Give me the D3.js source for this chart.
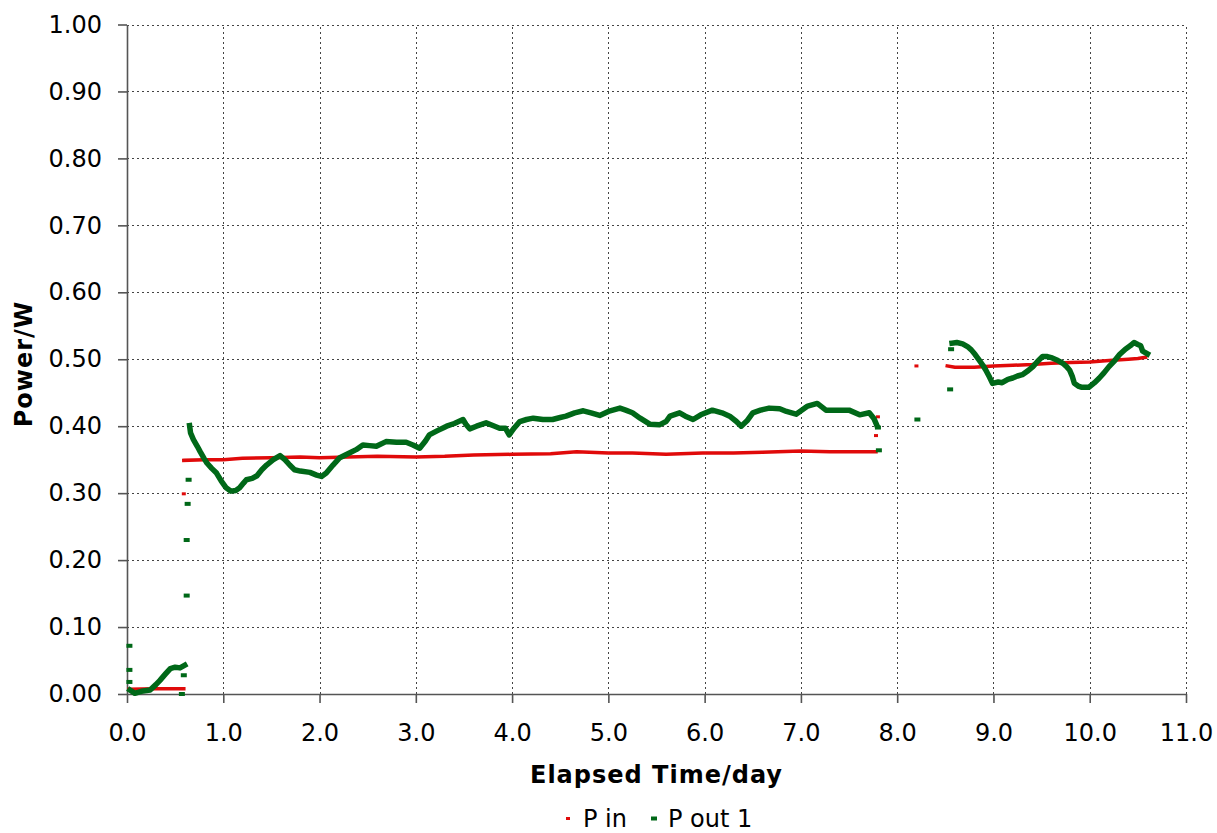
<!DOCTYPE html>
<html>
<head>
<meta charset="utf-8">
<script src="https://cdn.jsdelivr.net/npm/d3@7"></script>
<style>
  html, body { margin: 0; padding: 0; background: #fff; }
  svg { display: block; }
  text { font-family: "DejaVu Sans", Verdana, sans-serif; fill: #000; }
</style>
</head>
<body>
<svg id="chart" width="1217" height="833"></svg>
<script>
// ---------- DATA (days, watts) ----------
const xTicks = [0,1,2,3,4,5,6,7,8,9,10,11];
const yTicks = [0,0.1,0.2,0.3,0.4,0.5,0.6,0.7,0.8,0.9,1.0];
const seriesNames = ["P in", "P out 1"];

// P in
const pInSeg1 = [[0.02,0.007],[0.30,0.008],[0.59,0.008]];
const pInSeg2 = [[0.59,0.349],[0.80,0.350],[1.00,0.350],[1.20,0.352],[1.50,0.353],[1.80,0.354],[2.00,0.353],
  [2.30,0.354],[2.60,0.355],[3.00,0.354],[3.30,0.355],[3.60,0.357],[4.00,0.358],[4.40,0.359],[4.67,0.362],
  [5.00,0.360],[5.25,0.360],[5.60,0.358],[5.98,0.360],[6.30,0.360],[6.60,0.361],[7.00,0.363],[7.30,0.362],
  [7.60,0.362],[7.78,0.362]];
const pInSeg3 = [[8.52,0.490],[8.60,0.488],[8.80,0.488],[9.00,0.490],[9.20,0.491],[9.40,0.492],[9.60,0.494],
  [9.80,0.495],[10.00,0.496],[10.20,0.498],[10.40,0.500],[10.50,0.501],[10.58,0.503]];
const pInPoints = [[0.59,0.299],[7.78,0.386],[7.80,0.414],[8.20,0.490]];

// P out 1
const pOutSeg1 = [[0.03,0.006],[0.08,0.001],[0.15,0.004],[0.24,0.006],[0.30,0.014],[0.34,0.020],[0.40,0.030],
  [0.45,0.038],[0.50,0.040],[0.55,0.039],[0.60,0.043]];
const pOutSeg2 = [[0.65,0.401],[0.66,0.390],[0.69,0.380],[0.73,0.370],[0.76,0.362],[0.80,0.352],[0.83,0.345],
  [0.88,0.337],[0.93,0.330],[0.98,0.318],[1.03,0.308],[1.08,0.303],[1.13,0.304],[1.17,0.308],[1.21,0.315],
  [1.24,0.320],[1.30,0.322],[1.35,0.326],[1.40,0.335],[1.45,0.342],[1.52,0.350],[1.59,0.356],[1.64,0.350],
  [1.69,0.342],[1.74,0.335],[1.80,0.333],[1.90,0.331],[1.97,0.327],[2.02,0.325],[2.07,0.330],[2.14,0.342],
  [2.21,0.353],[2.31,0.360],[2.38,0.365],[2.45,0.372],[2.52,0.371],[2.59,0.370],[2.69,0.377],[2.80,0.376],
  [2.90,0.376],[2.97,0.372],[3.04,0.367],[3.10,0.378],[3.14,0.387],[3.22,0.393],[3.32,0.400],[3.40,0.404],
  [3.49,0.410],[3.52,0.403],[3.56,0.396],[3.63,0.400],[3.73,0.405],[3.80,0.401],[3.87,0.397],[3.93,0.397],
  [3.97,0.387],[4.02,0.397],[4.08,0.407],[4.15,0.410],[4.22,0.412],[4.32,0.410],[4.42,0.410],[4.50,0.413],
  [4.56,0.415],[4.65,0.420],[4.74,0.423],[4.82,0.420],[4.91,0.416],[5.00,0.422],[5.12,0.427],[5.18,0.424],
  [5.25,0.420],[5.33,0.412],[5.43,0.403],[5.53,0.402],[5.60,0.407],[5.64,0.415],[5.74,0.420],[5.80,0.415],
  [5.88,0.410],[5.96,0.417],[6.08,0.424],[6.18,0.420],[6.26,0.415],[6.33,0.407],[6.38,0.400],[6.44,0.408],
  [6.50,0.420],[6.58,0.424],[6.67,0.427],[6.78,0.426],[6.85,0.422],[6.95,0.418],[7.07,0.430],[7.17,0.434],
  [7.26,0.424],[7.36,0.424],[7.50,0.424],[7.61,0.417],[7.71,0.420],[7.76,0.411],[7.79,0.401]];
const pOutSeg3 = [[8.57,0.524],[8.62,0.525],[8.68,0.523],[8.73,0.519],[8.77,0.514],[8.81,0.507],[8.85,0.499],
  [8.89,0.491],[8.92,0.484],[8.96,0.473],[8.99,0.464],[9.05,0.466],[9.09,0.465],[9.15,0.470],[9.20,0.472],
  [9.25,0.475],[9.30,0.477],[9.36,0.483],[9.41,0.489],[9.46,0.497],[9.51,0.504],[9.56,0.504],[9.61,0.502],
  [9.67,0.498],[9.72,0.494],[9.76,0.489],[9.79,0.484],[9.82,0.474],[9.84,0.464],[9.88,0.460],[9.92,0.458],
  [9.99,0.458],[10.05,0.465],[10.10,0.472],[10.15,0.480],[10.20,0.489],[10.26,0.498],[10.31,0.507],
  [10.37,0.515],[10.42,0.520],[10.46,0.525],[10.50,0.522],[10.53,0.520],[10.55,0.512],[10.60,0.508]];
const pOutPoints = [[0.025,0.072],[0.025,0.036],[0.025,0.018],[0.57,0.000],[0.59,0.028],[0.62,0.147],
  [0.62,0.230],[0.63,0.284],[0.64,0.320],[7.80,0.398],[7.81,0.364],[8.21,0.410],[8.55,0.455],[8.56,0.515]];

const colors = { pin: "#e00a0a", pout: "#006818" };

// ---------- LAYOUT ----------
const svg = d3.select("#chart");
const x = d3.scaleLinear().domain([0, 11]).range([127, 1186]);
const y = d3.scaleLinear().domain([0, 1]).range([694, 24.5]);

// Grid
const grid = svg.append("g").attr("stroke", "#444").attr("stroke-width", 1)
  .attr("stroke-dasharray", "2,3").attr("shape-rendering", "crispEdges");
grid.selectAll("line.h").data(yTicks.filter(d => d > 0)).join("line")
  .attr("x1", x(0)).attr("x2", x(11)).attr("y1", d => Math.round(y(d)) + 0.5).attr("y2", d => Math.round(y(d)) + 0.5);
grid.selectAll("line.v").data(xTicks.filter(d => d > 0)).join("line")
  .attr("y1", y(0)).attr("y2", y(1)).attr("x1", d => Math.round(x(d)) + 0.5).attr("x2", d => Math.round(x(d)) + 0.5);

// Axes
const yAxis = svg.append("g").attr("transform", `translate(${x(0)},0)`)
  .call(d3.axisLeft(y).tickValues(yTicks).tickFormat(d3.format(".2f")).tickSize(9).tickPadding(16).tickSizeOuter(0));
const xAxis = svg.append("g").attr("transform", `translate(0,${y(0)})`)
  .call(d3.axisBottom(x).tickValues(xTicks).tickFormat(d3.format(".1f")).tickSize(9).tickSizeOuter(0));
[yAxis, xAxis].forEach(a => {
  a.select(".domain").attr("stroke", "#555").attr("stroke-width", 1.6);
  a.selectAll(".tick line").attr("stroke", "#555").attr("stroke-width", 1.6);
  a.selectAll(".tick text").attr("fill", "#000").style("font-size", "24px")
    .style("font-family", '"DejaVu Sans", Verdana, sans-serif');
});
xAxis.selectAll(".tick text").attr("y", 47).attr("dy", null);

// Series
const line = d3.line().x(d => x(d[0])).y(d => y(d[1]));
const plot = svg.append("g");
function drawSeries(segs, pts, color, lw, mw, mh) {
  const g = plot.append("g");
  g.selectAll("path").data(segs).join("path")
    .attr("d", line).attr("fill", "none").attr("stroke", color)
    .attr("stroke-width", lw).attr("stroke-linejoin", "round").attr("stroke-linecap", "square");
  g.selectAll("rect").data(pts).join("rect")
    .attr("x", d => x(d[0]) - mw / 2).attr("y", d => y(d[1]) - mh / 2)
    .attr("width", mw).attr("height", mh).attr("fill", color);
}
drawSeries([pInSeg1, pInSeg2, pInSeg3], pInPoints, colors.pin, 3.5, 4, 3);
drawSeries([pOutSeg1, pOutSeg2, pOutSeg3], pOutPoints, colors.pout, 5.5, 6, 4);

// Axis titles
svg.append("text").attr("x", (x(0) + x(11)) / 2).attr("y", 783)
  .attr("text-anchor", "middle").style("font-size", "24px").style("font-weight", "bold")
  .style("letter-spacing", "1px").text("Elapsed Time/day");
svg.append("text").attr("transform", "translate(32,364) rotate(-90)")
  .attr("text-anchor", "middle").style("font-size", "24px").style("font-weight", "bold")
  .style("letter-spacing", "1px").text("Power/W");

// Legend
const legend = svg.append("g");
legend.append("rect").attr("x", 566).attr("y", 817).attr("width", 4).attr("height", 3).attr("fill", colors.pin);
legend.append("text").attr("x", 583).attr("y", 827).style("font-size", "24px").text(seriesNames[0]);
legend.append("rect").attr("x", 651).attr("y", 816.5).attr("width", 6).attr("height", 4).attr("fill", colors.pout);
legend.append("text").attr("x", 668).attr("y", 827).style("font-size", "24px").text(seriesNames[1]);
</script>
</body>
</html>
